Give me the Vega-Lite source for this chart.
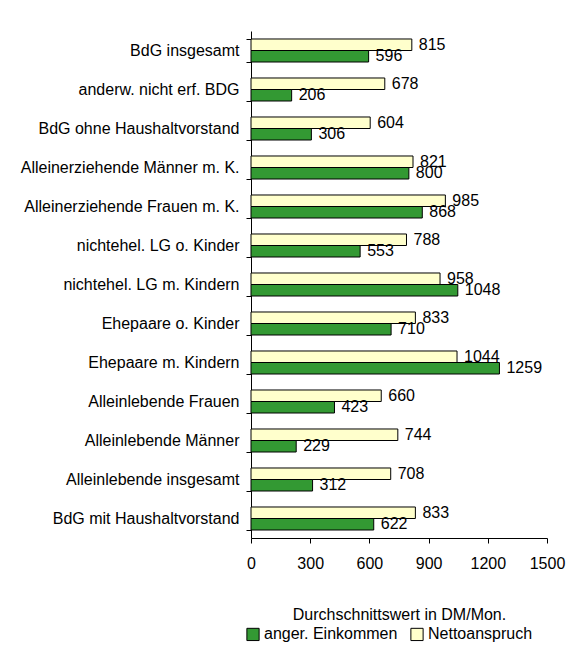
{
  "$schema": "https://vega.github.io/schema/vega-lite/v6.json",
  "width": 296,
  "height": 507,
  "padding": {"left": 20, "top": 23, "right": 5, "bottom": 5},
  "background": "white",
  "config": {
    "font": "Liberation Sans",
    "view": {"stroke": null},
    "axis": {"labelFont": "Liberation Sans", "titleFont": "Liberation Sans", "labelColor": "black", "titleColor": "black", "domainColor": "black", "tickColor": "black", "grid": false},
    "legend": {"labelFont": "Liberation Sans"}
  },
  "data": {
    "values": [
      {"cat": "BdG insgesamt", "series": "Nettoanspruch", "value": 815},
      {"cat": "BdG insgesamt", "series": "anger. Einkommen", "value": 596},
      {"cat": "anderw. nicht erf. BDG", "series": "Nettoanspruch", "value": 678},
      {"cat": "anderw. nicht erf. BDG", "series": "anger. Einkommen", "value": 206},
      {"cat": "BdG ohne Haushaltvorstand", "series": "Nettoanspruch", "value": 604},
      {"cat": "BdG ohne Haushaltvorstand", "series": "anger. Einkommen", "value": 306},
      {"cat": "Alleinerziehende Männer m. K.", "series": "Nettoanspruch", "value": 821},
      {"cat": "Alleinerziehende Männer m. K.", "series": "anger. Einkommen", "value": 800},
      {"cat": "Alleinerziehende Frauen m. K.", "series": "Nettoanspruch", "value": 985},
      {"cat": "Alleinerziehende Frauen m. K.", "series": "anger. Einkommen", "value": 868},
      {"cat": "nichtehel. LG o. Kinder", "series": "Nettoanspruch", "value": 788},
      {"cat": "nichtehel. LG o. Kinder", "series": "anger. Einkommen", "value": 553},
      {"cat": "nichtehel. LG m. Kindern", "series": "Nettoanspruch", "value": 958},
      {"cat": "nichtehel. LG m. Kindern", "series": "anger. Einkommen", "value": 1048},
      {"cat": "Ehepaare o. Kinder", "series": "Nettoanspruch", "value": 833},
      {"cat": "Ehepaare o. Kinder", "series": "anger. Einkommen", "value": 710},
      {"cat": "Ehepaare m. Kindern", "series": "Nettoanspruch", "value": 1044},
      {"cat": "Ehepaare m. Kindern", "series": "anger. Einkommen", "value": 1259},
      {"cat": "Alleinlebende Frauen", "series": "Nettoanspruch", "value": 660},
      {"cat": "Alleinlebende Frauen", "series": "anger. Einkommen", "value": 423},
      {"cat": "Alleinlebende Männer", "series": "Nettoanspruch", "value": 744},
      {"cat": "Alleinlebende Männer", "series": "anger. Einkommen", "value": 229},
      {"cat": "Alleinlebende insgesamt", "series": "Nettoanspruch", "value": 708},
      {"cat": "Alleinlebende insgesamt", "series": "anger. Einkommen", "value": 312},
      {"cat": "BdG mit Haushaltvorstand", "series": "Nettoanspruch", "value": 833},
      {"cat": "BdG mit Haushaltvorstand", "series": "anger. Einkommen", "value": 622}
    ]
  },
  "encoding": {
    "y": {
      "field": "cat", "type": "nominal", "sort": null,
      "scale": {"paddingInner": 0.41, "paddingOuter": 0.205},
      "axis": {"title": null, "labelFontSize": 16, "labelPadding": 7, "tickSize": 5, "tickBand": "extent", "labelLimit": 400}
    },
    "yOffset": {
      "field": "series", "type": "nominal",
      "sort": ["Nettoanspruch", "anger. Einkommen"],
      "scale": {"paddingInner": 0, "paddingOuter": 0}
    },
    "x": {
      "field": "value", "type": "quantitative",
      "scale": {"domain": [0, 1500], "nice": false},
      "axis": {"values": [0, 300, 600, 900, 1200, 1500], "format": "d", "title": "Durchschnittswert in DM/Mon.", "labelFontSize": 16, "titleFontSize": 16, "titleFontWeight": "normal", "tickSize": 5, "labelPadding": 12, "titlePadding": 35, "labelFlush": false}
    }
  },
  "layer": [
    {
      "mark": {"type": "bar", "stroke": "black", "strokeWidth": 1},
      "encoding": {
        "color": {
          "field": "series", "type": "nominal",
          "scale": {"domain": ["anger. Einkommen", "Nettoanspruch"], "range": ["#339933", "#FFFFCC"]},
          "legend": {"title": null, "orient": "none", "direction": "horizontal", "legendX": -6, "legendY": 595, "symbolType": "square", "symbolSize": 150, "symbolStrokeColor": "black", "symbolStrokeWidth": 1, "symbolOpacity": 1, "labelFontSize": 16, "labelColor": "black", "columnPadding": 10, "labelOffset": 3}
        }
      }
    },
    {
      "mark": {"type": "text", "align": "left", "baseline": "middle", "dx": 7, "fontSize": 16, "color": "black"},
      "encoding": {"text": {"field": "value", "type": "quantitative"}}
    }
  ]
}
